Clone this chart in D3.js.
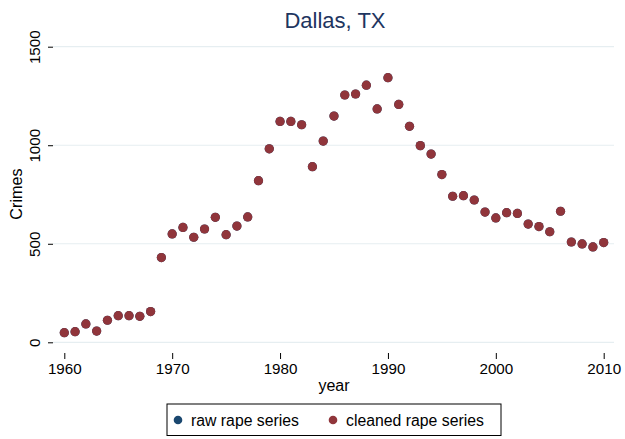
<!DOCTYPE html>
<html>
<head>
<meta charset="utf-8">
<script src="https://cdn.jsdelivr.net/npm/d3@7/dist/d3.min.js"></script>
<style>
  html, body { margin: 0; padding: 0; background: #fff; }
  svg { display: block; font-family: "Liberation Sans", Arial, sans-serif; }
</style>
</head>
<body>
<svg id="chart" width="625" height="439"></svg>
<script>
const years = d3.range(1960, 2011);
const cleaned = [49, 54, 93, 57, 112, 135, 135, 132, 156, 430,
                 550, 583, 533, 575, 634, 546, 590, 636, 820, 982,
                 1121, 1121, 1104, 891, 1021, 1148, 1255, 1260, 1305, 1184,
                 1343, 1207, 1096, 998, 955, 851, 741, 744, 722, 661,
                 631, 658, 654, 600, 587, 561, 665, 509, 499, 484,
                 506];
const raw = cleaned.slice();
const xTicks = [1960, 1970, 1980, 1990, 2000, 2010];
const yTicks = [0, 500, 1000, 1500];
const seriesNames = ["raw rape series", "cleaned rape series"];
const seriesColors = ["#1a476f", "#90353b"];

const svg = d3.select("#chart");
const x = d3.scaleLinear().domain([1960, 2010]).range([64.3, 603.7]);
const y = d3.scaleLinear().domain([0, 1500]).range([342.3, 46.7]);

// gridlines
svg.append("g").selectAll("line").data(yTicks).join("line")
  .attr("x1", 53).attr("x2", 614)
  .attr("y1", d => y(d)).attr("y2", d => y(d))
  .attr("stroke", "#e6eef1").attr("stroke-width", 1.2);

// y axis
const yAxis = svg.append("g").attr("transform", "translate(53,0)")
  .call(d3.axisLeft(y).tickValues(yTicks).tickSize(5).tickFormat(d3.format("d")));
yAxis.select(".domain").remove();
yAxis.selectAll(".tick line").attr("stroke", "#000").attr("stroke-width", 1);
yAxis.selectAll(".tick text")
  .attr("x", null).attr("dy", null)
  .attr("transform", "translate(-13,0) rotate(-90)")
  .attr("text-anchor", "middle")
  .attr("font-size", 15.2).attr("fill", "#000")
  .attr("font-family", "Liberation Sans, Arial, sans-serif");

// x axis
const xAxis = svg.append("g").attr("transform", "translate(0,353)")
  .call(d3.axisBottom(x).tickValues(xTicks).tickSize(6).tickFormat(d3.format("d")));
xAxis.select(".domain").remove();
xAxis.selectAll(".tick line").attr("stroke", "#000").attr("stroke-width", 1);
xAxis.selectAll(".tick text")
  .attr("y", 21).attr("dy", null)
  .attr("font-size", 15.2).attr("fill", "#000")
  .attr("font-family", "Liberation Sans, Arial, sans-serif");

// axis titles
svg.append("text").attr("x", 334).attr("y", 391).attr("text-anchor", "middle")
  .attr("font-size", 16).text("year");
svg.append("text").attr("transform", "translate(22,194) rotate(-90)")
  .attr("text-anchor", "middle").attr("font-size", 16.2).text("Crimes");

// title
svg.append("text").attr("x", 335).attr("y", 28).attr("text-anchor", "middle")
  .attr("font-size", 22).attr("fill", "#1e3560").text("Dallas, TX");

// points
const data = [raw, cleaned];
data.forEach((vals, i) => {
  svg.append("g").selectAll("circle").data(vals).join("circle")
    .attr("cx", (d, j) => x(years[j]))
    .attr("cy", d => y(d))
    .attr("r", 4.6)
    .attr("fill", seriesColors[i]);
});

// legend
const lg = svg.append("g");
lg.append("rect").attr("x", 167).attr("y", 404).attr("width", 334).attr("height", 31.5)
  .attr("fill", "#fff").attr("stroke", "#000").attr("stroke-width", 1);
const lx = [178, 333];
seriesNames.forEach((name, i) => {
  lg.append("circle").attr("cx", lx[i]).attr("cy", 420).attr("r", 4.3).attr("fill", seriesColors[i]);
  lg.append("text").attr("x", lx[i] + 13).attr("y", 425.5).attr("font-size", 15.8).text(name);
});
</script>
</body>
</html>
